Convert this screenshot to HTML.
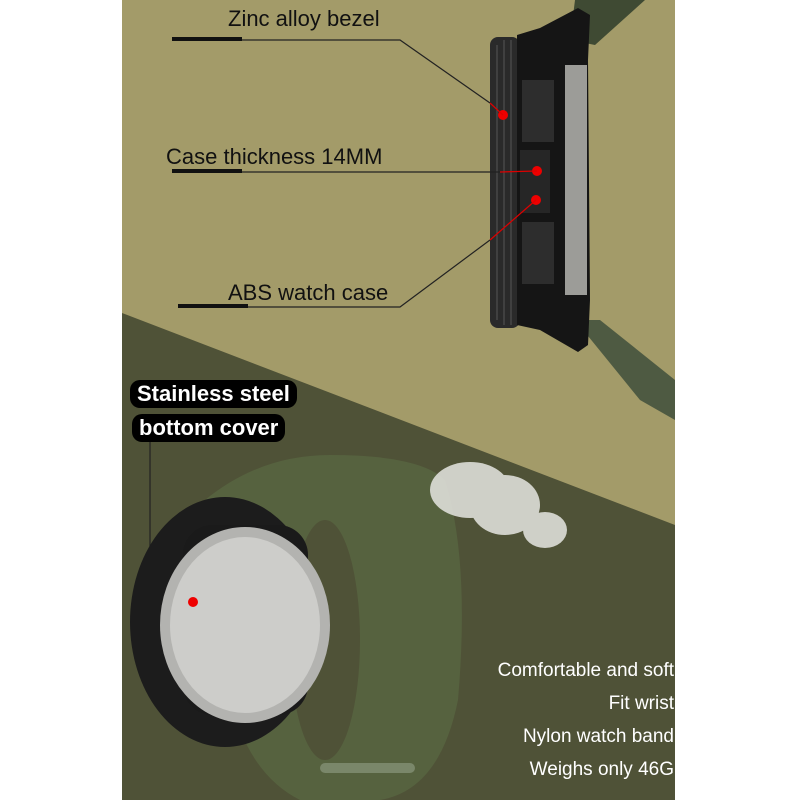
<!DOCTYPE html>
<html><head><meta charset="utf-8"><style>
body{margin:0;width:800px;height:800px;background:#fff;overflow:hidden;position:relative;font-family:"Liberation Sans",sans-serif}
.t{position:absolute;color:#111;font-size:22px;white-space:nowrap}
.w{position:absolute;color:#fff;font-size:19px;white-space:nowrap;text-align:right;right:126px}
</style></head><body>
<svg width="800" height="800" style="position:absolute;left:0;top:0">
<rect x="122" y="0" width="553" height="800" fill="#a39b69"/>
<polygon points="122,313 675,525 675,800 122,800" fill="#4f5237"/>
<!-- top straps -->
<polygon points="575,0 645,0 595,45 570,40" fill="#3f4a33"/>
<polygon points="575,320 600,320 675,380 675,420 640,400" fill="#4e5a42"/>
<!-- top watch side -->
<rect x="490" y="37" width="30" height="291" rx="8" fill="#2a2a2a"/>
<g stroke="#555" stroke-width="1"><line x1="497" y1="45" x2="497" y2="320"/><line x1="504" y1="40" x2="504" y2="325"/><line x1="511" y1="40" x2="511" y2="325"/></g>
<polygon points="517,35 540,28 578,8 590,15 588,60 590,300 588,345 578,352 540,330 517,325" fill="#151515"/>
<rect x="565" y="65" width="22" height="230" fill="#9c9c98"/>
<rect x="522" y="80" width="32" height="62" fill="#2d2d2d"/>
<rect x="522" y="222" width="32" height="62" fill="#2d2d2d"/>
<rect x="520" y="150" width="30" height="63" fill="#262626"/>
<circle cx="503" cy="115" r="5" fill="#e00"/>
<circle cx="537" cy="171" r="5" fill="#e00"/>
<circle cx="536" cy="200" r="5" fill="#e00"/>
<!-- lines -->
<g stroke="#222" stroke-width="1.2" fill="none">
<polyline points="172,40 400,40 490,103"/>
<polyline points="172,172 500,172"/>
<polyline points="178,307 400,307 490,240"/>
<polyline points="150,440 150,600 192,600"/>
</g>
<g stroke="#d00" stroke-width="1.2"><line x1="490" y1="103" x2="503" y2="115"/><line x1="500" y1="172" x2="537" y2="171"/><line x1="490" y1="240" x2="536" y2="200"/></g>
<rect x="172" y="37" width="70" height="4" fill="#111"/>
<rect x="172" y="169" width="70" height="4" fill="#111"/>
<rect x="178" y="304" width="70" height="4" fill="#111"/>
<!-- band loop -->
<path d="M205,500 Q260,455 330,455 Q420,455 445,480 Q470,560 458,700 Q440,790 380,800 L300,800 Q260,780 240,730 Z" fill="#56623f"/>
<ellipse cx="325" cy="640" rx="35" ry="120" fill="#4f5237"/>
<rect x="320" y="763" width="95" height="10" rx="5" fill="#7a876a"/>
<!-- watch back -->
<ellipse cx="225" cy="622" rx="95" ry="125" fill="#1c1c1c"/>
<rect x="183" y="525" width="125" height="190" rx="30" fill="#1a1a1a"/>
<ellipse cx="245" cy="625" rx="85" ry="98" fill="#b3b3b0"/>
<ellipse cx="245" cy="625" rx="75" ry="88" fill="#cdcdca"/>
<circle cx="193" cy="602" r="5" fill="#e00"/>
<!-- smoke -->
<g fill="#e6e6e2" opacity="0.85">
<ellipse cx="470" cy="490" rx="40" ry="28"/><ellipse cx="505" cy="505" rx="35" ry="30"/><ellipse cx="545" cy="530" rx="22" ry="18"/>
</g>
</svg>
<div class="t" style="left:228px;top:6px">Zinc alloy bezel</div>
<div class="t" style="left:166px;top:144px">Case thickness 14MM</div>
<div class="t" style="left:228px;top:280px">ABS watch case</div>
<div style="position:absolute;left:130px;top:380px;background:#000;color:#fff;font-size:22px;font-weight:bold;padding:1px 7px;border-radius:10px">Stainless steel</div>
<div style="position:absolute;left:132px;top:414px;background:#000;color:#fff;font-size:22px;font-weight:bold;padding:1px 7px;border-radius:10px">bottom cover</div>
<div class="w" style="top:660px">Comfortable and soft</div>
<div class="w" style="top:693px">Fit wrist</div>
<div class="w" style="top:726px">Nylon watch band</div>
<div class="w" style="top:759px">Weighs only 46G</div>
</body></html>
